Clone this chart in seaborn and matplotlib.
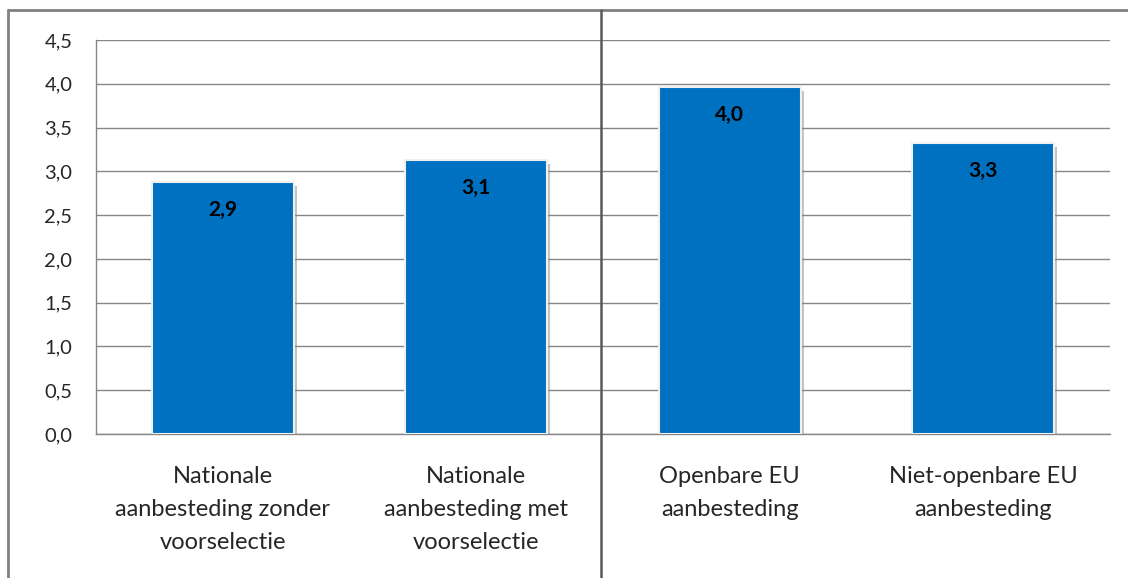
import matplotlib
matplotlib.use("Agg")
import matplotlib.pyplot as plt
import matplotlib.patheffects as pe
import seaborn as sns
import pandas as pd

# data
categorieen = ["Nationale\naanbesteding zonder\nvoorselectie",
               "Nationale\naanbesteding met\nvoorselectie",
               "Openbare EU\naanbesteding",
               "Niet-openbare EU\naanbesteding"]
scores = [2.88, 3.13, 3.96, 3.32]
yticks = [0.0, 0.5, 1.0, 1.5, 2.0, 2.5, 3.0, 3.5, 4.0, 4.5]

df = pd.DataFrame({"cat": categorieen, "score": scores})

sns.set_style("white")
plt.rcParams["font.family"] = ["Lato", "DejaVu Sans"]

fig = plt.figure(figsize=(11.28, 5.78), dpi=100)
ax = fig.add_axes([96/1128, 1 - 434/578, (1110 - 96)/1128, (434 - 40)/578])

sns.barplot(data=df, x="cat", y="score", color="#0070C0", saturation=1,
            width=0.56, ax=ax, edgecolor="#f0f0f0", linewidth=1.5, zorder=3)
for p in ax.patches:
    p.set_path_effects([pe.SimplePatchShadow(offset=(2, -3), shadow_rgbFace="#888888", alpha=0.5),
                        pe.Normal()])

# waardes in de balken
for i, v in enumerate(scores):
    ax.annotate(f"{v:.1f}".replace(".", ","), (i, v), xytext=(0, -20),
                textcoords="offset points", ha="center", va="center",
                fontsize=15, fontweight="bold", color="black", zorder=4)

ax.set_ylim(0, 4.5)
ax.set_yticks(yticks)
ax.set_yticklabels([f"{t:.1f}".replace(".", ",") for t in yticks], fontsize=14.5)
ax.yaxis.grid(True, color="#868686", linewidth=1.0, zorder=0)
ax.set_axisbelow(True)
ax.tick_params(axis="y", length=0, pad=17)
ax.tick_params(axis="x", length=0, pad=23, labelsize=17)
for lbl in ax.get_xticklabels():
    lbl.set_linespacing(1.7)
ax.set_xlabel("")
ax.set_ylabel("")

for s in ["top", "right"]:
    ax.spines[s].set_visible(False)
for s in ["left", "bottom"]:
    ax.spines[s].set_color("#868686")
    ax.spines[s].set_linewidth(1.0)

# rand om de figuur en scheidingslijn
top = 1 - 10/578
fig.add_artist(plt.Line2D([8/1128, 8/1128], [0, top], transform=fig.transFigure, color="#808080", lw=2))
fig.add_artist(plt.Line2D([8/1128, 1], [top, top], transform=fig.transFigure, color="#808080", lw=2))
fig.add_artist(plt.Line2D([601/1128, 601/1128], [0, top], transform=fig.transFigure, color="#5a5a5a", lw=1.8, zorder=5))

fig.savefig("out.png", dpi=100)
